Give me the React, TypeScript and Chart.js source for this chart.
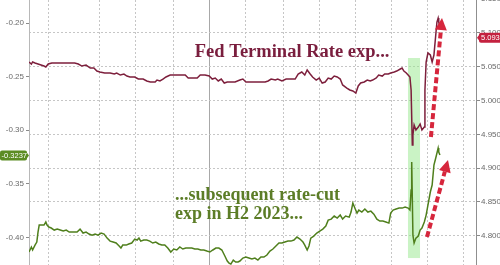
import React, { useEffect, useRef } from "react";
import { Chart, registerables } from "chart.js";

Chart.register(...registerables);

// ---- time axis (days since start of window) ----
const X_MAX = 372;
const gridDays = [16.5, 58.5, 89, 120, 150, 180.5, 211.5, 241.5, 271.5, 302, 332, 362];
const yearStartDay = 150;

// ---- axes ----
const leftTicks = [-0.4, -0.35, -0.3, -0.25, -0.2];
const leftMin = -0.4258;
const leftMax = -0.1785;
const rightTicks = [4.8, 4.85, 4.9, 4.95, 5.0, 5.05, 5.1, 5.15];
const rightMin = 4.7567;
const rightMax = 5.1487;

// ---- Fed terminal rate expectation (right axis) ----
const rateDays = [0, 2, 3, 5, 7.5, 10, 12.5, 14, 16, 19, 26, 32.5, 38, 41, 44, 47.5, 51, 54, 56.5, 59, 63, 67.5, 71, 73, 76, 79, 81.5, 84, 88, 91, 95, 98, 101, 105, 106.5, 109, 111.5, 114, 117.5, 121.5, 126, 130, 132.5, 136, 140, 142.5, 146.5, 150, 152.5, 155, 157.5, 160, 162.5, 165, 167.5, 171.5, 175.5, 178, 180.5, 184, 188, 192, 196.5, 199, 201.5, 205, 207, 210.5, 214, 217, 221.5, 224, 227, 229.5, 231.5, 234, 236, 239, 241.5, 244, 246.5, 249, 251.5, 254, 256.5, 259, 261, 264.5, 267, 269.5, 272, 274, 276, 279, 281.5, 284, 286, 289, 291, 294, 296, 299, 301, 304, 306, 309, 310.5, 312, 314, 315.5, 317, 318, 319, 319.5, 320.5, 322, 324, 325.5, 327, 329, 329.5, 330.5, 332, 334, 335.5, 337, 338.5, 339.5, 340.5, 341, 342];
const rateValues = [5.057, 5.054, 5.057, 5.0555, 5.054, 5.0525, 5.051, 5.0496, 5.054, 5.0555, 5.0555, 5.0555, 5.0555, 5.054, 5.051, 5.0525, 5.048, 5.048, 5.0436, 5.0422, 5.0407, 5.0407, 5.0392, 5.0407, 5.0377, 5.0392, 5.0362, 5.0348, 5.0348, 5.0318, 5.0318, 5.0289, 5.0274, 5.0274, 5.0303, 5.0289, 5.0318, 5.0348, 5.0377, 5.0377, 5.0377, 5.0377, 5.0333, 5.0333, 5.0333, 5.0377, 5.0377, 5.0362, 5.0318, 5.0333, 5.0289, 5.0318, 5.0259, 5.0274, 5.0274, 5.0274, 5.0303, 5.0318, 5.0274, 5.0274, 5.0274, 5.0274, 5.0274, 5.0289, 5.0318, 5.0303, 5.0318, 5.0289, 5.0318, 5.0318, 5.0318, 5.0392, 5.0422, 5.0377, 5.0451, 5.0392, 5.0348, 5.0303, 5.0333, 5.0259, 5.0274, 5.0333, 5.0318, 5.0362, 5.0348, 5.0318, 5.023, 5.0185, 5.0156, 5.0141, 5.0111, 5.0215, 5.0259, 5.0274, 5.0303, 5.0289, 5.0303, 5.0333, 5.0377, 5.0362, 5.0392, 5.0392, 5.0407, 5.0422, 5.0436, 5.0466, 5.048, 5.0436, 5.0407, 5.0377, 5.0348, 5.0156, 4.9342, 4.949, 4.9638, 4.9564, 4.9608, 4.9653, 4.9564, 4.9608, 5.0156, 5.057, 5.0703, 5.0673, 5.057, 5.0673, 5.0969, 5.1161, 5.122, 5.1161, 5.1087];

// ---- subsequent rate-cut expectation (left axis) ----
const cutDays = [0, 2, 3, 5, 6.5, 7.5, 8.5, 11, 12.5, 14, 15, 16.5, 18.5, 21, 23.5, 26, 28.5, 31, 33.5, 36, 38, 40, 42.5, 45, 47.5, 50, 52.5, 55, 57.5, 60, 62.5, 65, 67.5, 70, 72.5, 75, 76.5, 78, 81, 83, 85.5, 88, 90, 91.5, 93, 95.5, 98, 100.5, 103, 105.5, 108, 110.5, 113, 115.5, 118, 120.5, 123, 125.5, 128, 130.5, 133, 135.5, 138, 140.5, 143, 145.5, 148, 150.5, 153, 155.5, 158, 160.5, 163, 165, 166.5, 168, 170, 172, 174, 175.5, 178, 180.5, 183, 185.5, 188, 190.5, 193, 195.5, 198, 200.5, 203, 205.5, 208, 210.5, 213, 215.5, 218, 220.5, 223, 225.5, 228, 229.5, 231.5, 233, 234.5, 237, 239.5, 242, 244.5, 247, 249, 251.5, 254, 256.5, 259, 261, 263.5, 266.5, 268, 269.5, 271.5, 273, 274.5, 277, 279.5, 282, 284.5, 287, 289.5, 292, 294.5, 297, 299.5, 301, 303, 305.5, 308, 310.5, 313, 315.5, 317, 318, 318.5, 319.5, 320.5, 322, 324, 325.5, 327, 329, 330.5, 332, 334, 335.5, 337, 338.5, 340.5, 341, 342];
const cutValues = [-0.4137, -0.409, -0.4118, -0.4072, -0.4044, -0.3951, -0.3885, -0.3885, -0.3885, -0.3857, -0.3885, -0.3904, -0.3913, -0.3932, -0.3923, -0.3932, -0.3941, -0.3932, -0.3951, -0.3951, -0.3951, -0.3951, -0.3923, -0.396, -0.3951, -0.3969, -0.3979, -0.3969, -0.3979, -0.396, -0.3969, -0.4007, -0.4035, -0.4044, -0.4053, -0.4081, -0.41, -0.4072, -0.4072, -0.4062, -0.4053, -0.4016, -0.4025, -0.4007, -0.4035, -0.4025, -0.4025, -0.4035, -0.4053, -0.4044, -0.4062, -0.4072, -0.4072, -0.41, -0.4137, -0.4109, -0.4118, -0.409, -0.4109, -0.41, -0.41, -0.41, -0.4109, -0.4109, -0.4118, -0.4118, -0.4128, -0.4137, -0.4118, -0.41, -0.41, -0.4118, -0.4174, -0.4221, -0.424, -0.4249, -0.4212, -0.423, -0.423, -0.4221, -0.4193, -0.4184, -0.4193, -0.4202, -0.4193, -0.4212, -0.4184, -0.4184, -0.4165, -0.4128, -0.4109, -0.4081, -0.4053, -0.4053, -0.4044, -0.4035, -0.4035, -0.4025, -0.3997, -0.4016, -0.4044, -0.4072, -0.4118, -0.4081, -0.4007, -0.3988, -0.396, -0.3941, -0.3923, -0.3895, -0.3839, -0.383, -0.3801, -0.382, -0.3792, -0.383, -0.3801, -0.3811, -0.3764, -0.368, -0.3736, -0.3773, -0.3745, -0.3764, -0.3736, -0.3764, -0.3755, -0.3783, -0.383, -0.3848, -0.3848, -0.3857, -0.3867, -0.3773, -0.3745, -0.3736, -0.3727, -0.3727, -0.3717, -0.3727, -0.3745, -0.3559, -0.3297, -0.3979, -0.4053, -0.4007, -0.3988, -0.3932, -0.3913, -0.3857, -0.3792, -0.3699, -0.3577, -0.3512, -0.3325, -0.326, -0.3167, -0.3204, -0.3232];

// ---- last-value tags ----
const lastCutLabel = -0.3237;
const lastRateLabel = 5.093;

// ---- annotations ----
const highlightDays = [315.4, 325.4];
const highlightRange = [4.767, 5.0629]; // right-axis values
const rateArrow = { from: [334.5, 4.946], to: [343.7, 5.122] };
const cutArrow = { from: [331.2, 4.798], to: [348.7, 4.912] };
const rateTitle = { text: "Fed Terminal Rate exp...", day: 138, value: 5.0643 };
const cutTitle = { lines: ["...subsequent rate-cut", "exp in H2 2023..."], day: 121.5, values: [4.8529, 4.8247] };

const RATE_COLOR = "#7d1f3c";
const CUT_COLOR = "#4f7f1c";
const ARROW_COLOR = "#d6263c";

function drawArrow(ctx: CanvasRenderingContext2D, x0: number, y0: number, x1: number, y1: number) {
  const ang = Math.atan2(y1 - y0, x1 - x0);
  const head = 12;
  const half = 6;
  const bx = x1 - head * Math.cos(ang);
  const by = y1 - head * Math.sin(ang);
  ctx.save();
  ctx.strokeStyle = ARROW_COLOR;
  ctx.lineWidth = 4;
  ctx.setLineDash([6, 3]);
  ctx.beginPath();
  ctx.moveTo(x0, y0);
  ctx.lineTo(bx, by);
  ctx.stroke();
  ctx.setLineDash([]);
  ctx.fillStyle = ARROW_COLOR;
  ctx.beginPath();
  ctx.moveTo(x1, y1);
  ctx.lineTo(bx + half * Math.sin(ang), by - half * Math.cos(ang));
  ctx.lineTo(bx - half * Math.sin(ang), by + half * Math.cos(ang));
  ctx.closePath();
  ctx.fill();
  ctx.restore();
}

function roundRect(ctx: CanvasRenderingContext2D, x: number, y: number, w: number, h: number, r: number) {
  ctx.beginPath();
  ctx.moveTo(x + r, y);
  ctx.lineTo(x + w - r, y);
  ctx.quadraticCurveTo(x + w, y, x + w, y + r);
  ctx.lineTo(x + w, y + h - r);
  ctx.quadraticCurveTo(x + w, y + h, x + w - r, y + h);
  ctx.lineTo(x + r, y + h);
  ctx.quadraticCurveTo(x, y + h, x, y + h - r);
  ctx.lineTo(x, y + r);
  ctx.quadraticCurveTo(x, y, x + r, y);
  ctx.closePath();
}

const overlayPlugin = {
  id: "overlay",
  beforeDatasetsDraw(chart: any) {
    const { ctx, scales } = chart;
    const x = scales.x;
    const yR = scales.yR;
    const x0 = x.getPixelForValue(highlightDays[0]);
    const x1 = x.getPixelForValue(highlightDays[1]);
    const yT = yR.getPixelForValue(highlightRange[1]);
    const yB = yR.getPixelForValue(highlightRange[0]);
    ctx.save();
    ctx.fillStyle = "rgba(150, 232, 140, 0.5)";
    ctx.fillRect(x0, yT, x1 - x0, yB - yT);
    ctx.restore();
  },
  afterDatasetsDraw(chart: any) {
    const { ctx, scales } = chart;
    const x = scales.x;
    const yR = scales.yR;
    drawArrow(ctx, x.getPixelForValue(rateArrow.from[0]), yR.getPixelForValue(rateArrow.from[1]), x.getPixelForValue(rateArrow.to[0]), yR.getPixelForValue(rateArrow.to[1]));
    drawArrow(ctx, x.getPixelForValue(cutArrow.from[0]), yR.getPixelForValue(cutArrow.from[1]), x.getPixelForValue(cutArrow.to[0]), yR.getPixelForValue(cutArrow.to[1]));

    ctx.save();
    ctx.textBaseline = "alphabetic";
    ctx.textAlign = "left";
    ctx.fillStyle = "#7a1e3e";
    ctx.font = "bold 18.5px 'Liberation Serif', serif";
    ctx.fillText(rateTitle.text, x.getPixelForValue(rateTitle.day), yR.getPixelForValue(rateTitle.value));
    ctx.fillStyle = "#5c7d27";
    ctx.font = "bold 18px 'Liberation Serif', serif";
    cutTitle.lines.forEach((line, i) => {
      ctx.fillText(line, x.getPixelForValue(cutTitle.day), yR.getPixelForValue(cutTitle.values[i]));
    });
    ctx.restore();
  },
  afterDraw(chart: any) {
    const { ctx, scales, chartArea } = chart;
    const yL = scales.yL;
    const yR = scales.yR;
    ctx.save();
    ctx.font = "7.5px 'Liberation Sans', Arial, sans-serif";
    ctx.textBaseline = "middle";
    // left tag
    const ly = yL.getPixelForValue(lastCutLabel);
    ctx.fillStyle = "#5b8c23";
    roundRect(ctx, 0, ly - 5, chartArea.left - 2, 10, 2);
    ctx.fill();
    ctx.beginPath();
    ctx.moveTo(chartArea.left - 3, ly - 4);
    ctx.lineTo(chartArea.left, ly);
    ctx.lineTo(chartArea.left - 3, ly + 4);
    ctx.fill();
    ctx.fillStyle = "#ffffff";
    ctx.textAlign = "right";
    ctx.fillText(lastCutLabel.toFixed(4), chartArea.left - 2, ly + 0.5);
    // right tag
    const ry = yR.getPixelForValue(lastRateLabel);
    const rx = chartArea.right + 3;
    ctx.fillStyle = "#c4213f";
    roundRect(ctx, rx, ry - 5, 30, 10, 2);
    ctx.fill();
    ctx.beginPath();
    ctx.moveTo(rx + 1, ry - 4);
    ctx.lineTo(rx - 2, ry);
    ctx.lineTo(rx + 1, ry + 4);
    ctx.fill();
    ctx.fillStyle = "#ffffff";
    ctx.textAlign = "left";
    ctx.fillText(lastRateLabel.toFixed(3), rx + 2, ry + 0.5);
    ctx.restore();
  },
};

export default function App() {
  const canvasRef = useRef<HTMLCanvasElement | null>(null);

  useEffect(() => {
    if (!canvasRef.current) return;
    const chart = new Chart(canvasRef.current, {
      type: "line",
      data: {
        datasets: [
          {
            label: "Fed Terminal Rate",
            data: rateDays.map((d, i) => ({ x: d, y: rateValues[i] })),
            yAxisID: "yR",
            borderColor: RATE_COLOR,
            borderWidth: 1.5,
            pointRadius: 0,
            tension: 0,
            fill: false,
          },
          {
            label: "Rate cut H2 2023",
            data: cutDays.map((d, i) => ({ x: d, y: cutValues[i] })),
            yAxisID: "yL",
            borderColor: CUT_COLOR,
            borderWidth: 1.5,
            pointRadius: 0,
            tension: 0,
            fill: false,
          },
        ],
      },
      options: {
        animation: false,
        responsive: false,
        maintainAspectRatio: false,
        layout: { padding: 0 },
        plugins: { legend: { display: false }, tooltip: { enabled: false } },
        scales: {
          x: {
            type: "linear",
            min: 0,
            max: X_MAX,
            ticks: { display: false },
            grid: {
              drawTicks: false,
              color: (c: any) => (c.tick && c.tick.value === yearStartDay ? "#a8a8a8" : "#c6c6c6"),
              lineWidth: 1,
            },
            border: {
              display: false,
              dash: (c: any) => (c.tick && c.tick.value === yearStartDay ? [] : [2, 2]),
            },
            afterBuildTicks: (s: any) => {
              s.ticks = gridDays.map((v) => ({ value: v }));
            },
            afterFit: (s: any) => {
              s.height = 0;
              s.paddingLeft = 0;
              s.paddingRight = 0;
            },
          },
          yL: {
            type: "linear",
            position: "left",
            min: leftMin,
            max: leftMax,
            afterBuildTicks: (s: any) => {
              s.ticks = leftTicks.map((v) => ({ value: v }));
            },
            ticks: {
              color: "#6a6a6a",
              font: { size: 8, family: "'Liberation Sans', Arial, sans-serif" },
              padding: 2,
              callback: (v: any) => Number(v).toFixed(2),
            },
            grid: { drawOnChartArea: false, tickLength: 3, tickColor: "#8a8a8a" },
            border: { color: "#b8b8b8", width: 1 },
            afterFit: (s: any) => {
              s.width = 29;
              s.paddingTop = 0;
              s.paddingBottom = 0;
            },
          },
          yR: {
            type: "linear",
            position: "right",
            min: rightMin,
            max: rightMax,
            afterBuildTicks: (s: any) => {
              s.ticks = rightTicks.map((v) => ({ value: v }));
            },
            ticks: {
              color: "#6a6a6a",
              font: { size: 8, family: "'Liberation Sans', Arial, sans-serif" },
              padding: 1,
              callback: (v: any) => Number(v).toFixed(3),
            },
            grid: { color: "#c6c6c6", tickLength: 4, tickColor: "#8a8a8a", lineWidth: 1 },
            border: { color: "#8f8f8f", width: 1, dash: [2, 2] },
            afterFit: (s: any) => {
              s.width = 24;
              s.paddingTop = 0;
              s.paddingBottom = 0;
            },
          },
        },
      },
      plugins: [overlayPlugin],
    } as any);
    return () => chart.destroy();
  }, []);

  return (
    <div style={{ position: "fixed", left: 0, top: 0, width: 500, height: 265, background: "#ffffff", overflow: "hidden" }}>
      <canvas ref={canvasRef} width={500} height={265} style={{ display: "block", width: 500, height: 265 }} />
    </div>
  );
}
